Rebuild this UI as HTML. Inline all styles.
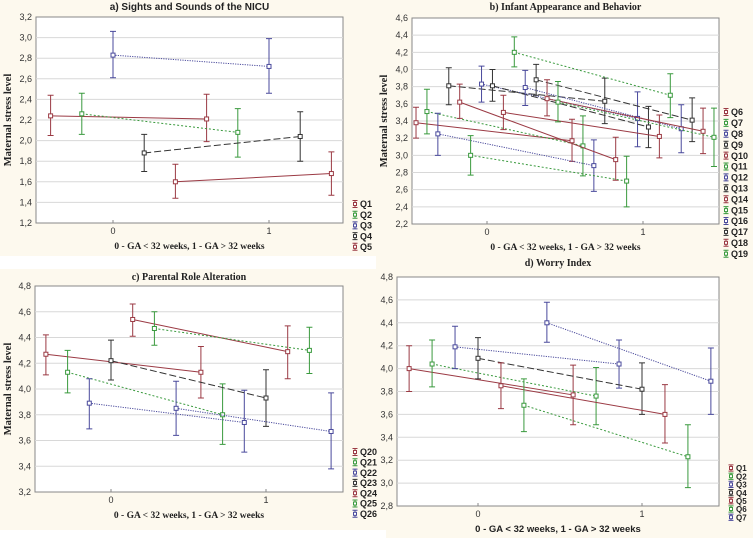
<!DOCTYPE html>
<html><head><meta charset="utf-8"><style>
html,body{margin:0;padding:0;background:#fdf9ee;}
svg{display:block;}
</style></head><body>
<svg id="fig" width="753" height="538" viewBox="0 0 753 538" xmlns="http://www.w3.org/2000/svg">
<rect x="0" y="0" width="753" height="538" fill="#fdf9ee"/>
<rect x="0" y="256" width="376" height="13" fill="#ffffff"/>
<rect x="0" y="530" width="386" height="8" fill="#ffffff"/>
</svg>
<script>
// Panel a data
const aNames=["Q1","Q2","Q3","Q4","Q5"];
const aMean0=[2.24,2.26,2.83,1.88,1.60];
const aLo0=[2.05,2.06,2.61,1.70,1.44];
const aHi0=[2.44,2.46,3.06,2.06,1.77];
const aMean1=[2.21,2.08,2.72,2.04,1.68];
const aLo1=[1.99,1.84,2.46,1.80,1.47];
const aHi1=[2.45,2.31,2.99,2.28,1.89];
const aTicks=["1,2","1,4","1,6","1,8","2,0","2,2","2,4","2,6","2,8","3,0","3,2"];
// Panel b data
const bNames=["Q6","Q7","Q8","Q9","Q10","Q11","Q12","Q13","Q14","Q15","Q16","Q17","Q18","Q19"];
const bMean0=[3.38,3.51,3.25,3.81,3.62,3.00,3.83,3.81,3.50,4.20,3.79,3.88,3.66,3.62];
const bLo0=[3.20,3.25,3.00,3.59,3.43,2.77,3.62,3.63,3.30,4.03,3.58,3.70,3.46,3.39];
const bHi0=[3.56,3.77,3.49,4.02,3.83,3.23,4.04,4.00,3.70,4.38,3.99,4.06,3.88,3.86];
const bMean1=[3.17,3.11,2.88,3.63,2.95,2.70,3.43,3.33,3.22,3.70,3.31,3.41,3.28,3.21];
const bLo1=[2.93,2.76,2.58,3.37,2.71,2.40,3.10,3.09,2.97,3.44,3.03,3.16,3.02,2.87];
const bHi1=[3.42,3.46,3.18,3.90,3.21,2.99,3.74,3.57,3.47,3.95,3.59,3.67,3.55,3.55];
const bTicks=["2,2","2,4","2,6","2,8","3,0","3,2","3,4","3,6","3,8","4,0","4,2","4,4","4,6"];
// Panel c data
const cNames=["Q20","Q21","Q22","Q23","Q24","Q25","Q26"];
const cMean0=[4.27,4.13,3.89,4.22,4.54,4.47,3.85];
const cLo0=[4.11,3.97,3.69,4.07,4.41,4.34,3.64];
const cHi0=[4.42,4.30,4.08,4.38,4.66,4.60,4.06];
const cMean1=[4.13,3.80,3.74,3.93,4.29,4.30,3.67];
const cLo1=[3.93,3.57,3.51,3.71,4.08,4.12,3.38];
const cHi1=[4.33,4.04,3.99,4.15,4.49,4.48,3.97];
const cTicks=["3,2","3,4","3,6","3,8","4,0","4,2","4,4","4,6","4,8"];
// Panel d data
const dNames=["Q1","Q2","Q3","Q4","Q5","Q6","Q7"];
const dMean0=[4.00,4.04,4.19,4.09,3.85,3.68,4.40];
const dLo0=[3.80,3.84,4.00,3.91,3.65,3.45,4.23];
const dHi0=[4.20,4.25,4.37,4.27,4.05,3.91,4.58];
const dMean1=[3.77,3.76,4.04,3.82,3.60,3.23,3.89];
const dLo1=[3.51,3.51,3.83,3.60,3.35,2.96,3.60];
const dHi1=[4.03,4.01,4.25,4.05,3.86,3.51,4.18];
const dTicks=["2,8","3,0","3,2","3,4","3,6","3,8","4,0","4,2","4,4","4,6","4,8"];
const xTickLabels=["0","1"];

const NS="http://www.w3.org/2000/svg";
const svg=document.getElementById("fig");
const COLORS=["#9b3a44","#3a9a3e","#4a4a9c","#333333"];
const DASH=["","2,2","1.2,1.2","7,3"];
function mk(tag,attrs,parent){const e=document.createElementNS(NS,tag);for(const k in attrs)e.setAttribute(k,attrs[k]);(parent||svg).appendChild(e);return e;}
function num(s){return parseFloat(s.replace(",","."));}

function panel(cfg){
  const g=mk("g",{});
  
  
  const ymin=num(cfg.ticks[0]),ymax=num(cfg.ticks[cfg.ticks.length-1]);
  const Y=v=>cfg.y1+(ymax-v)/(ymax-ymin)*(cfg.y0-cfg.y1);
  const X=v=>cfg.xz+v*cfg.xu;
  mk("rect",{x:cfg.x0,y:cfg.y1,width:cfg.x1-cfg.x0,height:cfg.y0-cfg.y1,fill:"#fff",stroke:"#888","stroke-width":1},g);
  cfg.ticks.forEach((t)=>{
    const yy=Y(num(t));
    if(yy>cfg.y1+0.5&&yy<cfg.y0-0.5){const gl=mk("line",{x1:cfg.x0,x2:cfg.x1,y1:yy,y2:yy,stroke:"#d8d8d8","stroke-width":1},g);
      
      }
    const tl=mk("text",{x:cfg.x0-4,y:yy+3,"text-anchor":"end","font-size":"9","font-family":"Liberation Sans, sans-serif",fill:"#333"},g);
    tl.textContent=t;
    
    
  });
  xTickLabels.forEach((t)=>{
    const xx=X(num(t));
    mk("line",{x1:xx,x2:xx,y1:cfg.y0,y2:cfg.y0-3,stroke:"#888"},g);
    const tl=mk("text",{x:xx,y:cfg.y0+11,"text-anchor":"middle","font-size":"9","font-family":"Liberation Sans, sans-serif",fill:"#333"},g);
    tl.textContent=t;
    
    
  });
  const ti=mk("text",{x:(cfg.x0+cfg.x1)/2,y:cfg.titleY,"text-anchor":"middle","font-size":"10","font-weight":"bold","font-family":cfg.titleFont,fill:"#222"},g);
  ti.textContent=cfg.title;
  
  
  const xl=mk("text",{x:(cfg.x0+cfg.x1)/2,y:cfg.y0+26,"text-anchor":"middle","font-size":"9.5","font-weight":"bold","font-family":cfg.xFont,fill:"#222"},g);
  xl.textContent="0 - GA < 32 weeks, 1 - GA > 32 weeks";
  
  
  if(cfg.ylab){
    const cy=(cfg.y0+cfg.y1)/2;
    const yl=mk("text",{x:cfg.ylabX,y:cy,"text-anchor":"middle","font-size":"10.5","font-weight":"bold","font-family":"Liberation Serif, serif",fill:"#222",transform:"rotate(-90 "+cfg.ylabX+" "+cy+")"},g);
    yl.textContent="Maternal stress level";
    
    
  }
  const n=cfg.names.length;
  for(let k=0;k<n;k++){
    const col=COLORS[k%4],dash=DASH[k%4];
    const off=cfg.start+k*cfg.step;
    const xa=X(off),xb=X(off+1);
    const ln=mk("line",{x1:xa,y1:Y(cfg.m0[k]),x2:xb,y2:Y(cfg.m1[k]),stroke:col,"stroke-width":1,"stroke-dasharray":dash},g);
    
    
    [[xa,cfg.m0[k],cfg.lo0[k],cfg.hi0[k]],[xb,cfg.m1[k],cfg.lo1[k],cfg.hi1[k]]].forEach(p=>{
      const eb=mk("path",{d:`M${p[0]},${Y(p[2])}V${Y(p[3])}M${p[0]-3},${Y(p[2])}h6M${p[0]-3},${Y(p[3])}h6`,stroke:col,"stroke-width":1,fill:"none"},g);
      
      
      const pt=mk("rect",{x:p[0]-2,y:Y(p[1])-2,width:4,height:4,fill:"#fff",stroke:col,"stroke-width":1},g);
      
      
    });
    const ly=cfg.legY+k*cfg.legStep;
    const le=mk("g",{},g);
    
    
    const lx=cfg.legX, h=Math.min(3.5,cfg.legStep*0.38);
    mk("path",{d:`M${lx-2.5},${ly-h}h5M${lx-2.5},${ly+h}h5M${lx},${ly-h}V${ly+h}`,stroke:col,"stroke-width":1,fill:"none"},le);
    mk("rect",{x:lx-1.5,y:ly-1.5,width:3,height:3,fill:"#fff",stroke:col,"stroke-width":1},le);
    const lt=mk("text",{x:lx+5,y:ly+3.2,"font-size":cfg.legFont,"font-weight":"bold","font-family":"Liberation Sans, sans-serif",fill:"#222"},le);
    lt.textContent=cfg.names[k];
  }
}

panel({id:"a",title:"a) Sights and Sounds of the NICU",titleY:10,titleFont:"Liberation Sans, sans-serif",xFont:"Liberation Serif, serif",
  x0:36,x1:343,y1:17,y0:223,xz:113,xu:156,ticks:aTicks,ylab:true,ylabX:11,
  names:aNames,m0:aMean0,lo0:aLo0,hi0:aHi0,m1:aMean1,lo1:aLo1,hi1:aHi1,start:-0.4,step:0.2,legX:355,legY:204,legStep:10.7,legFont:"9"});
panel({id:"b",title:"b) Infant Appearance and Behavior",titleY:10,titleFont:"Liberation Serif, serif",xFont:"Liberation Serif, serif",
  x0:412,x1:719,y1:18,y0:224,xz:487,xu:156,ticks:bTicks,ylab:true,ylabX:387,
  names:bNames,m0:bMean0,lo0:bLo0,hi0:bHi0,m1:bMean1,lo1:bLo1,hi1:bHi1,start:-0.455,step:0.07,legX:726,legY:112,legStep:10.9,legFont:"9"});
panel({id:"c",title:"c) Parental Role Alteration",titleY:280,titleFont:"Liberation Serif, serif",xFont:"Liberation Serif, serif",
  x0:35,x1:343,y1:286,y0:492,xz:111,xu:155,ticks:cTicks,ylab:true,ylabX:11,
  names:cNames,m0:cMean0,lo0:cLo0,hi0:cHi0,m1:cMean1,lo1:cLo1,hi1:cHi1,start:-0.42,step:0.14,legX:355,legY:452,legStep:10.3,legFont:"9"});
panel({id:"d",title:"d) Worry Index",titleY:266,titleFont:"Liberation Serif, serif",xFont:"Liberation Sans, sans-serif",
  x0:397,x1:719,y1:277,y0:506,xz:478,xu:164,ticks:dTicks,ylab:false,
  names:dNames,m0:dMean0,lo0:dLo0,hi0:dHi0,m1:dMean1,lo1:dLo1,hi1:dHi1,start:-0.42,step:0.14,legX:731,legY:468,legStep:8.2,legFont:"8"});
</script>
</body></html>
